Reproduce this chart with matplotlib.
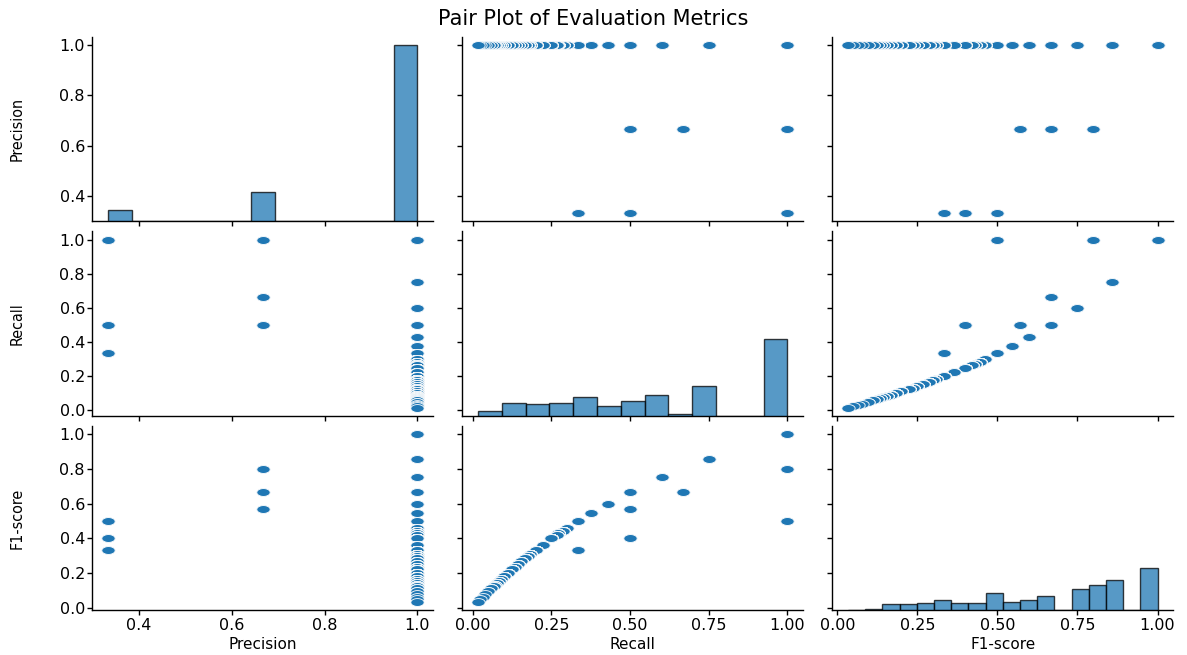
import numpy as np
import pandas as pd
import matplotlib
matplotlib.use("Agg")
import matplotlib.pyplot as plt
import seaborn as sns

# Unique (precision, recall, F1) combinations read from the chart and the
# number of rows sharing each combination (estimated from histogram heights)
precision = [1.0] * 34 + [0.6667] * 3 + [0.3333] * 3
recall = [1.0, 0.75, 0.6, 0.5, 0.4286, 0.375, 0.3333, 0.3, 0.2857, 0.2727,
          0.2667, 0.25, 0.2222, 0.2, 0.1818, 0.1765, 0.1667, 0.1538, 0.1429,
          0.1333, 0.125, 0.1111, 0.1, 0.0909, 0.0833, 0.0769, 0.0714, 0.0667,
          0.0588, 0.05, 0.04, 0.0333, 0.025, 0.0167,
          1.0, 0.6667, 0.5,
          1.0, 0.5, 0.3333]
f1_score = [1.0, 0.8571, 0.75, 0.6667, 0.6, 0.5455, 0.5, 0.4615, 0.4444, 0.4286,
            0.4211, 0.4, 0.3636, 0.3333, 0.3077, 0.3, 0.2857, 0.2667, 0.25,
            0.2353, 0.2222, 0.2, 0.1818, 0.1667, 0.1538, 0.1429, 0.1333, 0.125,
            0.1111, 0.0952, 0.0769, 0.0645, 0.0488, 0.0328,
            0.8, 0.6667, 0.5714,
            0.5, 0.4, 0.3333]
counts = [420, 300, 210, 120, 95, 83, 85, 30, 20, 20,
          5, 57, 6, 50, 32, 29, 24, 12, 8,
          15, 25, 20, 26, 16, 10, 8, 4, 4,
          3, 2, 1, 1, 1, 1,
          253, 23, 12,
          87, 12, 18]

columns = ["Precision", "Recall", "F1-score"]
n_bins = {"Precision": 13, "Recall": 13, "F1-score": 18}
x_ticks = {"Precision": [0.4, 0.6, 0.8, 1.0],
           "Recall": [0.0, 0.25, 0.5, 0.75, 1.0],
           "F1-score": [0.0, 0.25, 0.5, 0.75, 1.0]}
y_ticks = {"Precision": [0.4, 0.6, 0.8, 1.0],
           "Recall": [0.0, 0.2, 0.4, 0.6, 0.8, 1.0],
           "F1-score": [0.0, 0.2, 0.4, 0.6, 0.8, 1.0]}

df = pd.DataFrame({
    "Precision": np.repeat(precision, counts),
    "Recall": np.repeat(recall, counts),
    "F1-score": np.repeat(f1_score, counts),
})

BLUE = "#1f77b4"
t = np.linspace(0, 2 * np.pi, 60)
ellipse = np.column_stack([1.7 * np.cos(t), np.sin(t)])


def diag_hist(x, label=None, color=None, **kws):
    name = getattr(x, "name", None)
    nb = n_bins.get(name, 13)
    edges = np.linspace(np.min(x), np.max(x), nb + 1)
    ax = plt.gca()
    ax.hist(x, bins=edges, color=BLUE, alpha=0.75, edgecolor="black",
            linewidth=1.0)


g = sns.PairGrid(df, vars=columns, height=6.55 / 3,
                 aspect=(11.87 / 3) / (6.55 / 3))
g.map_offdiag(plt.scatter, marker=ellipse, s=92, edgecolor="white",
              linewidths=0.6, color=BLUE)
g.map_diag(diag_hist)

for j, c in enumerate(columns):
    g.axes[-1, j].set_xticks(x_ticks[c])
for i, c in enumerate(columns):
    g.axes[i, 0].set_yticks(y_ticks[c])

for ax in g.axes.flat:
    ax.tick_params(labelsize=11.5, length=3.8, width=1.0, pad=1.5)
    for sp in ax.spines.values():
        sp.set_linewidth(1.0)
for j, c in enumerate(columns):
    g.axes[-1, j].set_xlabel(c, fontsize=11)
    g.axes[-1, j].xaxis.set_label_coords(0.5, -0.142)
for i, c in enumerate(columns):
    g.axes[i, 0].set_ylabel(c, fontsize=11.5, fontstretch="condensed")
    g.axes[i, 0].yaxis.set_label_coords(-0.198, 0.5)

fig = g.figure
fig.set_size_inches(11.87, 6.55)
fig.subplots_adjust(left=0.0778, right=0.9882, bottom=0.068, top=0.944,
                    wspace=0.0866, hspace=0.0525)
fig.suptitle("Pair Plot of Evaluation Metrics", fontsize=15, y=0.987)
fig.savefig("out.png", dpi=100)
